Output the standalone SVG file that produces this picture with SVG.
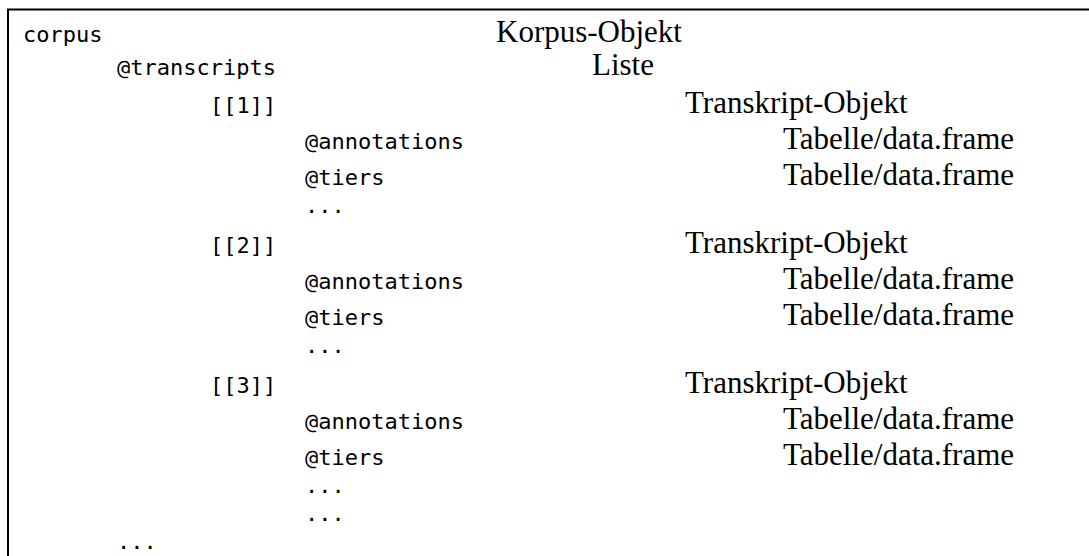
<svg xmlns="http://www.w3.org/2000/svg" width="1089" height="556" viewBox="0 0 1089 556">
<style>
.m{font-family:"DejaVu Sans Mono","Liberation Mono",monospace;font-size:22px;fill:#000}
.s{font-family:"Liberation Serif","Times New Roman",serif;font-size:31px;fill:#000}
</style>
<rect x="0" y="0" width="1089" height="556" fill="#fff"/>
<path d="M8,556 V9.5 H1089" fill="none" stroke="#000" stroke-width="2"/>
<g id="corpus"><text class="m" x="23" y="42">corpus</text><text class="s" x="496" y="42">Korpus-Objekt</text></g>
<g id="transcripts"><text class="m" x="117" y="75">@transcripts</text><text class="s" x="592" y="75">Liste</text></g>
<g id="t1"><text class="m" x="210" y="113">[[1]]</text><text class="s" x="685" y="113">Transkript-Objekt</text></g>
<g id="t1-annotations"><text class="m" x="305" y="149">@annotations</text><text class="s" x="783" y="149">Tabelle/data.frame</text></g>
<g id="t1-tiers"><text class="m" x="305" y="185">@tiers</text><text class="s" x="783" y="185">Tabelle/data.frame</text></g>
<g id="t1-more"><text class="m" x="305" y="213">...</text></g>
<g id="t2"><text class="m" x="210" y="253">[[2]]</text><text class="s" x="685" y="253">Transkript-Objekt</text></g>
<g id="t2-annotations"><text class="m" x="305" y="289">@annotations</text><text class="s" x="783" y="289">Tabelle/data.frame</text></g>
<g id="t2-tiers"><text class="m" x="305" y="325">@tiers</text><text class="s" x="783" y="325">Tabelle/data.frame</text></g>
<g id="t2-more"><text class="m" x="305" y="353">...</text></g>
<g id="t3"><text class="m" x="210" y="393">[[3]]</text><text class="s" x="685" y="393">Transkript-Objekt</text></g>
<g id="t3-annotations"><text class="m" x="305" y="429">@annotations</text><text class="s" x="783" y="429">Tabelle/data.frame</text></g>
<g id="t3-tiers"><text class="m" x="305" y="465">@tiers</text><text class="s" x="783" y="465">Tabelle/data.frame</text></g>
<g id="t3-more"><text class="m" x="305" y="493">...</text></g>
<g id="t-more"><text class="m" x="305" y="521">...</text></g>
<g id="corpus-more"><text class="m" x="117" y="549">...</text></g>
</svg>
